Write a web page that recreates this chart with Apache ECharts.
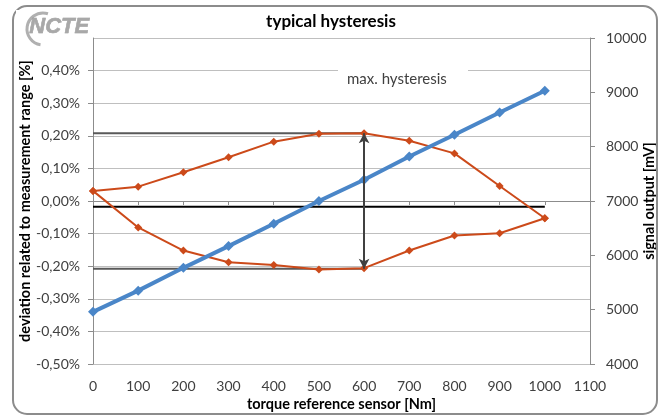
<!DOCTYPE html>
<html><head><meta charset="utf-8">
<script src="https://cdn.jsdelivr.net/npm/echarts@6/dist/echarts.min.js"></script>
<style>html,body{margin:0;padding:0;background:#fff}#c{width:662px;height:417px}</style>
</head><body><div id="c"></div>
<script>
// torque reference [Nm]
const torque = [0, 100, 200, 300, 400, 500, 600, 700, 800, 900, 1000];
// signal output [mV] (right axis)
const signalMv = [4960, 5350, 5770, 6170, 6580, 7000, 7390, 7820, 8220, 8630, 9030];
// deviation [%] (left axis): upper branch 0..1000 and lower branch 0..1000
const devUpper = [0.031, 0.044, 0.088, 0.134, 0.182, 0.206, 0.208, 0.185, 0.146, 0.046, -0.053];
const devLower = [0.031, -0.081, -0.152, -0.188, -0.196, -0.210, -0.206, -0.152, -0.106, -0.099, -0.053];
// reference lines
const hystTorque = 600;
const hystMax = 0.208;
const hystMin = -0.208;
const zeroLine = -0.018;
const leftTicks = {min: -0.5, max: 0.5, step: 0.1};
const rightTicks = {min: 4000, max: 10000, step: 1000};
const xTicks = {min: 0, max: 1100, step: 100};

const loop = torque.map((t, i) => [t, devUpper[i]])
  .concat(torque.slice().reverse().map((t, i) => [t, devLower[torque.length - 1 - i]]));

const FONT = 'Lato';
const txt = '#404040';
const chart = echarts.init(document.getElementById('c'), null, {renderer: 'canvas'});
chart.setOption({
  animation: false,
  backgroundColor: '#fff',
  title: {text: 'typical hysteresis', left: 'center', top: 8,
    textStyle: {fontFamily: FONT, fontSize: 17, fontWeight: 'bold', color: '#000'}},
  grid: {left: 93, right: 72, top: 38, bottom: 53, containLabel: false, outerBoundsMode: 'none'},
  xAxis: {type: 'value', min: xTicks.min, max: xTicks.max, interval: xTicks.step,
    name: 'torque reference sensor [Nm]', nameLocation: 'middle', nameGap: 33, nameMoveOverlap: false,
    nameTextStyle: {fontFamily: FONT, fontSize: 14.5, fontWeight: 'bold', color: '#000'},
    axisLine: {lineStyle: {color: '#8c8c8c'}},
    axisTick: {length: 4, lineStyle: {color: '#8c8c8c'}},
    axisLabel: {fontFamily: FONT, fontSize: 14, color: txt, margin: 15, formatter: v => String(v)},
    splitLine: {show: false}},
  yAxis: [
    {type: 'value', min: leftTicks.min, max: leftTicks.max, interval: leftTicks.step,
      position: 'left',
      name: 'deviation related to measurement range [%]', nameLocation: 'middle', nameGap: 60, nameRotate: 90,
      nameMoveOverlap: false,
      nameTextStyle: {fontFamily: FONT, fontSize: 14.5, fontWeight: 'bold', color: '#000'},
      axisLine: {show: true, lineStyle: {color: '#8c8c8c'}},
      axisTick: {show: true, length: 5, lineStyle: {color: '#8c8c8c'}},
      axisLabel: {fontFamily: FONT, fontSize: 14, color: txt, margin: 13, showMaxLabel: false,
        formatter: v => (Math.round(v * 100) / 100).toFixed(2).replace('.', ',') + '%'},
      splitLine: {show: true, lineStyle: {color: '#bfbfbf', width: 1}}},
    {type: 'value', min: rightTicks.min, max: rightTicks.max, interval: rightTicks.step,
      position: 'right',
      name: 'signal output [mV]', nameLocation: 'middle', nameGap: 52, nameRotate: 90, nameMoveOverlap: false,
      nameTextStyle: {fontFamily: FONT, fontSize: 14.5, fontWeight: 'bold', color: '#000'},
      axisLine: {show: true, lineStyle: {color: '#8c8c8c'}},
      axisTick: {show: true, length: 5, lineStyle: {color: '#8c8c8c'}},
      axisLabel: {fontFamily: FONT, fontSize: 14, color: txt, margin: 16, formatter: v => String(v)},
      splitLine: {show: false}}
  ],
  series: [
    {type: 'line', yAxisIndex: 0, data: [[torque[0], hystMax], [hystTorque, hystMax]],
      symbol: 'none', lineStyle: {color: '#595959', width: 2}, z: 2},
    {type: 'line', yAxisIndex: 0, data: [[torque[0], hystMin], [hystTorque, hystMin]],
      symbol: 'none', lineStyle: {color: '#595959', width: 2}, z: 2},
    {type: 'line', yAxisIndex: 0, data: [[torque[0], zeroLine], [torque[torque.length - 1], zeroLine]],
      symbol: 'none', lineStyle: {color: '#000', width: 2}, z: 2,
      markLine: {silent: true, symbol: ['arrow', 'arrow'], symbolSize: [8, 10],
        label: {show: false},
        lineStyle: {color: '#404040', width: 2, type: 'solid'},
        data: [[{coord: [hystTorque, hystMax]}, {coord: [hystTorque, hystMin]}]]}},
    {type: 'line', yAxisIndex: 0, data: loop,
      symbol: 'diamond', symbolSize: 8, showSymbol: true,
      itemStyle: {color: '#cc4a1a'}, lineStyle: {color: '#cc4a1a', width: 2}, z: 3},
    {type: 'line', yAxisIndex: 1, data: torque.map((t, i) => [t, signalMv[i]]),
      symbol: 'diamond', symbolSize: 10,
      itemStyle: {color: '#4a86c8'}, lineStyle: {color: '#4a86c8', width: 4}, z: 4}
  ],
  graphic: [
    {type: 'rect', shape: {x: 13, y: 6, width: 644, height: 408, r: 14},
      style: {fill: 'none', stroke: '#8c8c8c', lineWidth: 2}, z: 10},
    {type: 'rect', shape: {x: 338, y: 62, width: 130, height: 36},
      style: {fill: '#fff'}, z: 5},
    {type: 'text', left: 347, top: 72,
      style: {text: 'max. hysteresis', font: '15px Lato', fill: '#404040'}, z: 6},
    {type: 'rect', shape: {x: 16, y: 10, width: 74, height: 36}, style: {fill: '#fff'}, z: 11},
    {type: 'arc', shape: {cx: 43, cy: 29, r: 16, startAngle: Math.PI * 0.55, endAngle: Math.PI * 1.6},
      style: {stroke: '#b0b0b0', lineWidth: 3, fill: 'none'}, z: 12},
    {type: 'text', left: 29, top: 16,
      style: {text: 'NCTE', font: 'italic bold 22px "Liberation Sans"', fill: '#a8a8a8', stroke: '#8a8a8a', lineWidth: 0.5}, z: 12}
  ]
});
</script></body></html>
